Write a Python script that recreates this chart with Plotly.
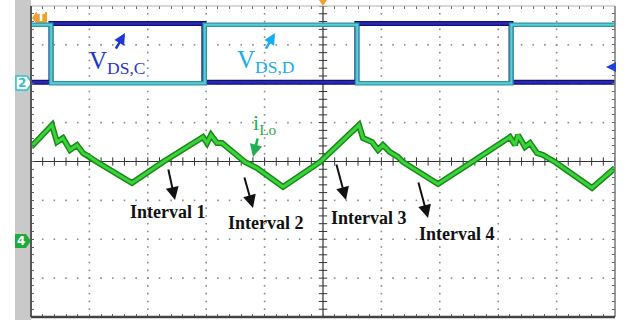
import numpy as np
import plotly.graph_objects as go

# ---- data (time in divisions 0..10, amplitude in divisions -4..4) ----
t_vdsc = [0.0, 0.342, 2.96, 5.58, 8.22, 10.0]
v_vdsc = [2.04, 3.55, 2.04, 3.55, 2.04, 2.04]

t_vdsd = [0.0, 0.345, 2.975, 5.585, 8.225, 10.0]
v_vdsd = [3.52, 2.01, 3.52, 2.01, 3.52, 3.52]

t_ilo = [0.0, 0.360, 0.445, 0.548, 0.668, 0.788, 0.890, 1.010, 1.130, 1.729,
         2.260, 2.945, 3.014, 3.082, 3.185, 3.271, 3.373, 3.527, 3.664, 3.870,
         4.315, 4.949, 5.616, 5.685, 5.839, 5.942, 6.027, 6.147, 6.284, 6.370,
         6.969, 7.551, 8.202, 8.288, 8.339, 8.459, 8.545, 8.664, 8.767, 8.973,
         9.606, 10.0]
v_ilo = [0.373, 0.938, 0.501, 0.604, 0.296, 0.424, 0.219, 0.116, -0.013, -0.553,
         -0.013, 0.630, 0.476, 0.681, 0.476, 0.476, 0.347, 0.167, -0.013, -0.167,
         -0.655, -0.013, 0.938, 0.604, 0.501, 0.296, 0.424, 0.244, 0.116, -0.013,
         -0.578, -0.013, 0.630, 0.424, 0.681, 0.373, 0.476, 0.219, 0.167, -0.013,
         -0.681, -0.167]

interval_labels = ["Interval 1", "Interval 2", "Interval 3", "Interval 4"]

W, H = 624, 320
ML, MR, MT, MB = 31, 9, 6, 3
PW, PH = W - ML - MR, H - MT - MB


def P(px, py):
    """pixel -> paper coordinates"""
    return (px - ML) / PW, (H - MB - py) / PH


def path(pts):
    s = ""
    for i, (px, py) in enumerate(pts):
        x, y = P(px, py)
        s += ("M" if i == 0 else "L") + f"{x:.4f},{y:.4f} "
    return s + "Z"


fig = go.Figure()

# dotted grid
minor = np.round(np.arange(0, 10.0001, 0.2), 3)
minor_y = np.round(np.arange(-4, 4.0001, 0.2), 3)
gx, gy = [], []
for xm in [1, 2, 3, 4, 6, 7, 8, 9]:
    gx += [xm] * len(minor_y)
    gy += list(minor_y)
for ym in [-3, -2, -1, 1, 2, 3]:
    gx += list(minor)
    gy += [ym] * len(minor)
fig.add_trace(go.Scatter(x=gx, y=gy, mode="markers",
                         marker=dict(symbol="square", size=1.6, color="#8a8a8a"),
                         hoverinfo="skip"))

# center-line ticks
fig.add_trace(go.Scatter(x=minor, y=[0] * len(minor), mode="markers",
                         marker=dict(symbol="line-ns", size=6,
                                     line=dict(width=1, color="#333")),
                         hoverinfo="skip"))
fig.add_trace(go.Scatter(x=[5] * len(minor_y), y=minor_y, mode="markers",
                         marker=dict(symbol="line-ew", size=6,
                                     line=dict(width=1, color="#333")),
                         hoverinfo="skip"))

# waveforms
fig.add_trace(go.Scatter(x=t_vdsc, y=v_vdsc, mode="lines", line_shape="hv",
                         line=dict(color="#10107a", width=5)))
fig.add_trace(go.Scatter(x=t_vdsc, y=v_vdsc, mode="lines", line_shape="hv",
                         line=dict(color="#2a2ab0", width=2.5)))
fig.add_trace(go.Scatter(x=t_vdsd, y=v_vdsd, mode="lines", line_shape="hv",
                         line=dict(color="#2a9aa6", width=4.5)))
fig.add_trace(go.Scatter(x=t_vdsd, y=v_vdsd, mode="lines", line_shape="hv",
                         line=dict(color="#5cccd2", width=2)))
fig.add_trace(go.Scatter(x=t_ilo, y=v_ilo, mode="lines",
                         line=dict(color="#178a17", width=6)))
fig.add_trace(go.Scatter(x=t_ilo, y=v_ilo, mode="lines",
                         line=dict(color="#3cd23c", width=3)))

shapes = []
# center lines
shapes.append(dict(type="line", x0=5, x1=5, y0=-4, y1=4, xref="x", yref="y",
                   line=dict(color="#333", width=1.2), layer="below"))
shapes.append(dict(type="line", x0=0, x1=10, y0=0, y1=0, xref="x", yref="y",
                   line=dict(color="#333", width=1.2), layer="below"))
# grey strip at left
shapes.append(dict(type="rect", xref="paper", yref="paper",
                   x0=P(15, 0)[0], x1=0, y0=P(0, H)[1], y1=P(0, 0)[1],
                   fillcolor="#c9c9c9", line=dict(width=0), layer="below"))
# borders
shapes.append(dict(type="line", xref="paper", yref="paper", x0=0, x1=1, y0=1, y1=1,
                   line=dict(color="#b0b0b0", width=1)))
shapes.append(dict(type="line", xref="paper", yref="paper", x0=1, x1=1, y0=0, y1=1,
                   line=dict(color="#777", width=1.5)))
shapes.append(dict(type="line", xref="paper", yref="paper", x0=0, x1=0, y0=0, y1=1,
                   line=dict(color="#555", width=2)))
shapes.append(dict(type="line", xref="paper", yref="paper", x0=0, x1=1, y0=0, y1=0,
                   line=dict(color="#444", width=2.5)))
# channel markers
shapes.append(dict(type="path", xref="paper", yref="paper", layer="below",
                   path=path([(32, 18), (36, 12), (47, 12), (47, 23), (36, 23)]),
                   fillcolor="#f0a030", line=dict(width=0)))
shapes.append(dict(type="path", xref="paper", yref="paper", layer="below",
                   path=path([(16, 76), (27, 76), (32, 83), (27, 90), (16, 90)]),
                   fillcolor="white", line=dict(color="#30c0d0", width=1.5)))
shapes.append(dict(type="path", xref="paper", yref="paper", layer="below",
                   path=path([(15, 234), (26, 234), (31, 241), (26, 248), (15, 248)]),
                   fillcolor="#1faa3c", line=dict(width=0)))
shapes.append(dict(type="path", xref="paper", yref="paper",
                   path=path([(319, 0), (327, 0), (323, 6)]),
                   fillcolor="#f0a030", line=dict(width=0)))

ann = []
serif = "Liberation Serif"


def arrow(x, y, ax, ay, color, width, size=1.0):
    ann.append(dict(x=x, y=y, ax=ax, ay=ay, xref="x", yref="y", axref="x", ayref="y",
                    text="", showarrow=True, arrowhead=2, arrowsize=size,
                    arrowwidth=width, arrowcolor=color))


# V_DS labels
ann.append(dict(x=0.96, y=2.55, xref="x", yref="y", xanchor="left", yanchor="middle",
                text="V<sub>DS,C</sub>", showarrow=False,
                font=dict(family=serif, size=25, color="#1f35d6")))
ann.append(dict(x=3.49, y=2.57, xref="x", yref="y", xanchor="left", yanchor="middle",
                text="V<sub>DS,D</sub>", showarrow=False,
                font=dict(family=serif, size=25, color="#1aaaf0")))
arrow(1.610, 3.303, 1.438, 2.866, "#1f35d6", 2.5, 0.9)
arrow(4.178, 3.303, 4.007, 2.866, "#1aaaf0", 2.5, 0.9)

# i_Lo label
ann.append(dict(x=4.007, y=0.97, xref="x", yref="y", xanchor="center", yanchor="middle",
                text="i<sub>Lo</sub>", showarrow=False,
                font=dict(family=serif, size=22, color="#1fae50")))
arrow(3.801, 0.116, 3.887, 0.630, "#1fae50", 2.5, 1.0)

# intervals
lab_x = [2.354, 4.024, 5.788, 7.286]
lab_y = [-1.298, -1.581, -1.452, -1.864]
for txt, lx, ly in zip(interval_labels, lab_x, lab_y):
    ann.append(dict(x=lx, y=ly, xref="x", yref="y", text="<b>" + txt + "</b>",
                    showarrow=False, font=dict(family=serif, size=18, color="#111")))
arrow(2.466, -0.990, 2.346, -0.167, "#111", 2, 1.3)
arrow(3.801, -1.195, 3.647, -0.373, "#111", 2, 1.3)
arrow(5.394, -0.990, 5.223, -0.039, "#111", 2, 1.3)
arrow(6.798, -1.452, 6.627, -0.501, "#111", 2, 1.3)

# marker texts
for (px, py), txt, col in [((41, 17.5), "T", "white"), ((22, 83), "2", "#30c0d0"),
                           ((21, 241), "4", "white")]:
    x, y = P(px, py)
    ann.append(dict(x=x, y=y, xref="paper", yref="paper", text="<b>" + txt + "</b>",
                    showarrow=False, xanchor="center", yanchor="middle",
                    font=dict(family="DejaVu Sans", size=12, color=col)))
# right-side blue offset arrow
x, y = P(606, 67)
ann.append(dict(x=x, y=y, xref="paper", yref="paper", ax=10, ay=0, text="",
                showarrow=True, arrowhead=2, arrowsize=1, arrowwidth=2,
                arrowcolor="#2040e0"))

fig.update_layout(
    width=W, height=H, margin=dict(l=ML, r=MR, t=MT, b=MB),
    paper_bgcolor="white", plot_bgcolor="rgba(0,0,0,0)", showlegend=False,
    shapes=shapes, annotations=ann,
    xaxis=dict(range=[0, 10], showgrid=False, zeroline=False, showticklabels=False,
               ticks="inside", dtick=0.2, tick0=0, ticklen=3, tickcolor="#666",
               mirror="ticks", showline=False),
    yaxis=dict(range=[-4, 4], showgrid=False, zeroline=False, showticklabels=False,
               ticks="inside", dtick=0.2, tick0=0, ticklen=3, tickcolor="#666",
               mirror="ticks", showline=False),
)

fig.write_html(
    "out.html",
    config={"displayModeBar": False},
    post_script="document.body.style.margin='0';document.body.style.padding='0';"
                "document.body.style.overflow='hidden';",
)
